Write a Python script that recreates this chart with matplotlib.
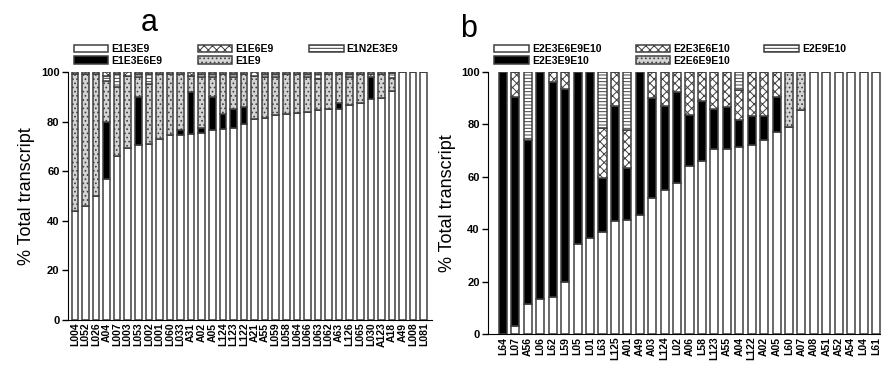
import matplotlib.pyplot as plt

plt.rcParams['font.family'] = ['Liberation Sans', 'DejaVu Sans']
plt.rcParams['hatch.linewidth'] = 0.7

# panel a: E1 transcripts
labels_a = ['L004', 'L052', 'L026', 'A04', 'L007', 'L003', 'L053', 'L002', 'L001',
            'L060', 'L033', 'A31', 'A02', 'A05', 'L124', 'L123', 'L122', 'A21',
            'A55', 'L059', 'L058', 'L064', 'L066', 'L063', 'L062', 'A63', 'L126',
            'L065', 'L030', 'A123', 'A18', 'A49', 'L008', 'L081']
e1e3e9 = [44, 46, 50, 57, 66, 69.5, 70.5, 71, 73, 74.5, 74.5, 75, 75.5, 76.5, 77,
          77.5, 79, 81, 81.5, 82.5, 83, 83.5, 84, 84.5, 85, 85, 86.5, 87.5, 89,
          89.5, 92.5, 100, 100, 100]
e1e3e6e9 = [0, 0, 0, 23, 0, 0, 19.5, 0, 0, 0, 2, 17, 2, 13.5, 6, 7.5, 7, 0, 0,
            0, 0, 0, 0, 0, 0, 2.5, 0, 0, 9, 0, 0, 0, 0, 0]
e1e9 = [55, 53, 49, 16.5, 28, 29, 8, 24, 26, 24.5, 22.5, 6.5, 20.5, 8, 16, 13,
        13, 17.5, 16.5, 15.5, 16, 15.5, 14, 12.5, 14, 11.5, 11.5, 11.5, 1, 9.5,
        5, 0, 0, 0]
e1n2e3e9 = [0, 0, 0, 2, 5, 0, 1, 4, 0, 0, 0, 0, 1, 1, 0, 1, 0, 0, 1, 1, 0, 0, 1,
            2, 0, 0, 1, 0, 0, 0, 2, 0, 0, 0]
e1e6e9 = [1, 1, 1, 1.5, 1, 1.5, 1, 1, 1, 1, 1, 1.5, 1, 1, 1, 1, 1, 1.5, 1, 1, 1,
          1, 1, 1, 1, 1, 1, 1, 1, 1, 0.5, 0, 0, 0]

# panel b: E2 transcripts
labels_b = ['L64', 'L07', 'A56', 'L06', 'L62', 'L59', 'L05', 'L01', 'L63', 'L125',
            'A01', 'A49', 'A03', 'L124', 'L02', 'A06', 'L58', 'L123', 'A55', 'A04',
            'L122', 'A02', 'A05', 'L60', 'A07', 'A08', 'A51', 'A52', 'A54', 'L04',
            'L61']
e2e3e6e9e10 = [0, 3, 11.5, 13.5, 14, 20, 34.5, 36.5, 39, 43, 43.5, 45.5, 52, 55,
               57.5, 64, 66, 70.5, 70.5, 71.5, 72, 74, 77, 79, 85.5, 100, 100,
               100, 100, 100, 100]
e2e3e9e10 = [100, 87.5, 62.5, 86.5, 82, 73.5, 65.5, 63.5, 20.5, 44, 20, 54.5, 38,
             32, 35, 19.5, 23, 15.5, 16, 10, 11, 9, 13.5, 0, 0, 0, 0, 0, 0, 0, 0]
e2e3e6e10 = [0, 9.5, 0, 0, 4, 6.5, 0, 0, 19, 13, 14.5, 0, 10, 13, 7.5, 16.5, 11,
             14, 13.5, 11.5, 17, 17, 9.5, 0, 0, 0, 0, 0, 0, 0, 0]
e2e6e9e10 = [0, 0, 0, 0, 0, 0, 0, 0, 0, 0, 0, 0, 0, 0, 0, 0, 0, 0, 0, 0, 0, 0, 0,
             21, 14.5, 0, 0, 0, 0, 0, 0]
e2e9e10 = [0, 0, 26, 0, 0, 0, 0, 0, 21.5, 0, 22, 0, 0, 0, 0, 0, 0, 0, 0, 7, 0, 0,
           0, 0, 0, 0, 0, 0, 0, 0, 0]

styles = {
    'white': dict(color='white', hatch=None),
    'black': dict(color='black', hatch=None),
    'dots': dict(color='#d4d4d4', hatch='....'),
    'lines': dict(color='white', hatch='-----'),
    'check': dict(color='white', hatch='xxxx'),
}


def stacked(ax, labels, series, width):
    x = range(len(labels))
    bottom = [0] * len(labels)
    for name, vals, st in series:
        ax.bar(x, vals, width, bottom=bottom, color=styles[st]['color'],
               hatch=styles[st]['hatch'], edgecolor='0.25', linewidth=1.1,
               label=name)
        bottom = [b + v for b, v in zip(bottom, vals)]
    ax.set_ylim(0, 100)
    ax.set_yticks(range(0, 101, 20))
    ax.set_xticks(list(x))
    ax.set_xticklabels(labels, rotation=90, fontsize=7.5, fontweight='bold')
    for t in ax.get_yticklabels():
        t.set_fontweight('bold')
        t.set_fontsize(8)
    ax.spines['top'].set_visible(False)
    ax.spines['right'].set_visible(False)
    ax.tick_params(axis='x', length=0, pad=2)
    ax.tick_params(axis='y', length=4, width=1, pad=2)
    ax.set_ylabel('% Total transcript', fontsize=13)


def add_legend(ax, order, spacing):
    h, l = ax.get_legend_handles_labels()
    ax.legend([h[i] for i in order], [l[i] for i in order], ncol=3,
              loc='lower left', bbox_to_anchor=(0.0, 1.0), frameon=False,
              prop={'size': 7.5, 'weight': 'bold'}, handlelength=3.3,
              handleheight=0.7, handletextpad=0.3, columnspacing=spacing,
              labelspacing=0.15, borderaxespad=0.2)


fig = plt.figure(figsize=(8.81, 3.69), dpi=100)

axa = fig.add_axes([0.077, 0.133, 0.413, 0.672])
stacked(axa, labels_a, [('E1E3E9', e1e3e9, 'white'),
                        ('E1E3E6E9', e1e3e6e9, 'black'),
                        ('E1E9', e1e9, 'dots'),
                        ('E1N2E3E9', e1n2e3e9, 'lines'),
                        ('E1E6E9', e1e6e9, 'check')], 0.62)
axa.set_xlim(-0.66, 33.75)
add_legend(axa, [0, 1, 4, 2, 3], 3.4)
fig.text(0.16, 0.915, 'a', fontsize=22)

axb = fig.add_axes([0.554, 0.095, 0.446, 0.71])
stacked(axb, labels_b, [('E2E3E6E9E10', e2e3e6e9e10, 'white'),
                        ('E2E3E9E10', e2e3e9e10, 'black'),
                        ('E2E3E6E10', e2e3e6e10, 'check'),
                        ('E2E6E9E10', e2e6e9e10, 'dots'),
                        ('E2E9E10', e2e9e10, 'lines')], 0.65)
axb.set_xlim(-1.2, 30.4)
add_legend(axb, [0, 1, 2, 3, 4], 3.3)
fig.text(0.522, 0.9, 'b', fontsize=22)

fig.savefig('out.png', dpi=100)
